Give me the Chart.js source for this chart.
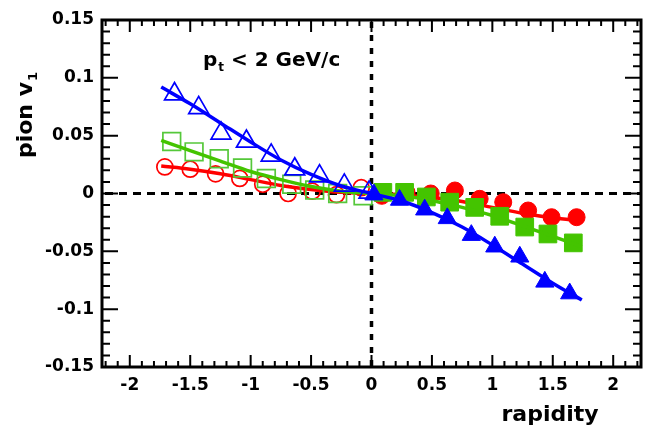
<!DOCTYPE html>
<html><head><meta charset="utf-8">
<script src="https://cdn.jsdelivr.net/npm/chart.js@4.4.0/dist/chart.umd.min.js"></script>
<style>html,body{margin:0;padding:0;background:#fff;}#wrap{width:646px;height:428px;}</style>
</head><body><div id="wrap"><canvas id="c" width="646" height="428"></canvas></div>
<script>
// ---- data ----
const xTicks = [-2, -1.5, -1, -0.5, 0, 0.5, 1, 1.5, 2];
const xTickLabels = ['-2', '-1.5', '-1', '-0.5', '0', '0.5', '1', '1.5', '2'];
const yTicks = [-0.15, -0.1, -0.05, 0, 0.05, 0.1, 0.15];
const yTickLabels = ['-0.15', '-0.1', '-0.05', '0', '0.05', '0.1', '0.15'];

const redOpenX = [-1.71, -1.50, -1.29, -1.09, -0.90, -0.69, -0.49, -0.29, -0.085];
const redOpenY = [0.023, 0.021, 0.017, 0.013, 0.008, 0.000, 0.002, -0.001, 0.005];
const redFillX = [0.085, 0.29, 0.49, 0.69, 0.895, 1.09, 1.296, 1.49, 1.697];
const redFillY = [-0.002, 0.001, 0.000, 0.0026, -0.0046, -0.0075, -0.0147, -0.0205, -0.0205];

const greenOpenX = [-1.653, -1.468, -1.26, -1.067, -0.87, -0.66, -0.47, -0.28, -0.07];
const greenOpenY = [0.045, 0.036, 0.030, 0.022, 0.013, 0.008, 0.003, 0.000, -0.002];
const greenFillX = [0.094, 0.274, 0.454, 0.647, 0.854, 1.061, 1.268, 1.46, 1.67];
const greenFillY = [0.001, 0.001, -0.003, -0.0075, -0.012, -0.0197, -0.029, -0.035, -0.0427];

const blueOpenX = [-1.63, -1.43, -1.245, -1.035, -0.83, -0.635, -0.43, -0.225, -0.02];
const blueOpenY = [0.086, 0.074, 0.052, 0.045, 0.033, 0.021, 0.015, 0.007, 0.001];
const blueFillX = [0.02, 0.232, 0.44, 0.627, 0.826, 1.02, 1.227, 1.434, 1.64];
const blueFillY = [-0.001, -0.0056, -0.014, -0.0215, -0.036, -0.046, -0.0547, -0.0764, -0.0865];

const fitX = [-1.74, -1.5, -1.25, -1.0, -0.75, -0.5, -0.25, 0, 0.25, 0.5, 0.75, 1.0, 1.25, 1.5, 1.74];
const blueFitY = [0.092, 0.0775, 0.061, 0.0445, 0.029, 0.0165, 0.0065, 0, -0.0065, -0.0165, -0.029, -0.0445, -0.061, -0.0775, -0.092];
const greenFitY = [0.046, 0.037, 0.028, 0.019, 0.012, 0.006, 0.002, 0, -0.002, -0.006, -0.012, -0.019, -0.028, -0.037, -0.046];
const redFitY = [0.0237, 0.021, 0.017, 0.012, 0.007, 0.0035, 0.001, 0, -0.001, -0.0035, -0.007, -0.012, -0.017, -0.021, -0.0237];

const annotationMain = 'p';
const annotationSub = 't';
const annotationRest = ' < 2 GeV/c';
const yTitleMain = 'pion v';
const yTitleSub = '1';
const xTitle = 'rapidity';

// ---- styling ----
const FAM = "'DejaVu Sans', 'Liberation Sans', sans-serif";
const RED = '#ff0000', GREEN = '#44c400', GREEN_OPEN = '#55c83a', BLUE = '#0000ff';
const PLOT_RIGHT = 641;

function pts(xs, ys) { return xs.map((x, i) => ({ x: x, y: ys[i] })); }

function lineSet(xs, ys, color, order) {
  return { data: pts(xs, ys), showLine: true, borderColor: color, borderWidth: 3.5,
    pointRadius: 0, cubicInterpolationMode: 'monotone', fill: false, order: order };
}
function markerSet(xs, ys, color, style, radius, filled, order) {
  return { data: pts(xs, ys), showLine: false, pointStyle: style, pointRadius: radius,
    pointBorderColor: color, pointBackgroundColor: filled ? color : 'rgba(0,0,0,0)',
    pointBorderWidth: filled ? 1 : 1.7, order: order };
}

const decor = {
  id: 'decor',
  afterLayout(chart) {
    const a = chart.chartArea, xs = chart.scales.x;
    a.right = PLOT_RIGHT; a.width = a.right - a.left;
    xs.right = PLOT_RIGHT; xs.width = xs.right - xs.left;
    xs.configure();
  },
  beforeDatasetsDraw(chart) {
    const ctx = chart.ctx, a = chart.chartArea, xs = chart.scales.x, ys = chart.scales.y;
    ctx.save();
    ctx.strokeStyle = '#000';
    ctx.lineWidth = 3;
    ctx.setLineDash([8, 6]);
    const y0 = ys.getPixelForValue(0);
    ctx.beginPath(); ctx.moveTo(a.left + 3, y0); ctx.lineTo(a.right, y0); ctx.stroke();
    ctx.lineWidth = 3.5;
    ctx.setLineDash([6, 7]);
    const x0 = xs.getPixelForValue(0);
    ctx.beginPath(); ctx.moveTo(x0, a.top + 2); ctx.lineTo(x0, a.bottom); ctx.stroke();
    ctx.restore();
  },
  afterDatasetsDraw(chart) {
    const ctx = chart.ctx, a = chart.chartArea, xs = chart.scales.x, ys = chart.scales.y;
    ctx.save();
    ctx.strokeStyle = '#000';
    ctx.setLineDash([]);
    ctx.lineWidth = 2;
    for (let i = -22; i <= 22; i++) {
      const v = i / 10;
      const major = (i % 5 === 0);
      const len = major ? 12 : 6;
      const px = xs.getPixelForValue(v);
      ctx.beginPath();
      ctx.moveTo(px, a.bottom); ctx.lineTo(px, a.bottom - len);
      ctx.moveTo(px, a.top); ctx.lineTo(px, a.top + len);
      ctx.stroke();
    }
    for (let i = -15; i <= 15; i++) {
      const v = i / 100;
      const major = (i % 5 === 0);
      const len = major ? 16 : 8;
      const py = ys.getPixelForValue(v);
      ctx.beginPath();
      ctx.moveTo(a.left, py); ctx.lineTo(a.left + len, py);
      ctx.moveTo(a.right, py); ctx.lineTo(a.right - len, py);
      ctx.stroke();
    }
    ctx.lineWidth = 3;
    ctx.strokeRect(a.left, a.top, a.right - a.left, a.bottom - a.top);
    ctx.restore();
  },
  afterDraw(chart) {
    const ctx = chart.ctx;
    ctx.save();
    ctx.fillStyle = '#000';
    ctx.textBaseline = 'alphabetic';
    ctx.textAlign = 'left';
    let ax = 203, ay = 66;
    ctx.font = 'bold 20px ' + FAM;
    ctx.fillText(annotationMain, ax, ay);
    ax += ctx.measureText(annotationMain).width;
    ctx.font = 'bold 12px ' + FAM;
    ctx.fillText(annotationSub, ax + 1, ay + 5);
    ax += ctx.measureText(annotationSub).width + 1;
    ctx.font = 'bold 20px ' + FAM;
    ctx.fillText(annotationRest, ax, ay);
    ctx.font = 'bold 22px ' + FAM;
    ctx.textAlign = 'center';
    ctx.fillText(xTitle, 550, 421);
    ctx.translate(32, 115);
    ctx.rotate(-Math.PI / 2);
    ctx.font = 'bold 22px ' + FAM;
    const w1 = ctx.measureText(yTitleMain).width;
    ctx.font = 'bold 13px ' + FAM;
    const w2 = ctx.measureText(yTitleSub).width;
    const tot = w1 + w2 + 1;
    ctx.textAlign = 'left';
    ctx.font = 'bold 22px ' + FAM;
    ctx.fillText(yTitleMain, -tot / 2, 0);
    ctx.font = 'bold 13px ' + FAM;
    ctx.fillText(yTitleSub, -tot / 2 + w1 + 1, 5);
    ctx.restore();
  }
};

const tickFont = { family: FAM, size: 17, weight: 'bold' };

new Chart(document.getElementById('c'), {
  type: 'scatter',
  data: {
    datasets: [
      lineSet(fitX, blueFitY, BLUE, 0),
      markerSet(blueOpenX, blueOpenY, BLUE, 'triangle', 11.5, false, 1),
      markerSet(blueFillX, blueFillY, BLUE, 'triangle', 10.5, true, 1),
      lineSet(fitX, greenFitY, GREEN, 2),
      markerSet(greenOpenX, greenOpenY, GREEN_OPEN, 'rect', 12.5, false, 3),
      markerSet(greenFillX, greenFillY, GREEN, 'rect', 12.5, true, 3),
      lineSet(fitX, redFitY, RED, 4),
      markerSet(redOpenX, redOpenY, RED, 'circle', 8, false, 5),
      markerSet(redFillX, redFillY, RED, 'circle', 8.5, true, 5)
    ]
  },
  options: {
    responsive: false,
    animation: false,
    devicePixelRatio: 1,
    layout: { padding: { top: 20, right: 5, left: 0, bottom: 0 } },
    plugins: { legend: { display: false }, tooltip: { enabled: false } },
    scales: {
      x: {
        type: 'linear', min: -2.23, max: 2.23,
        afterBuildTicks: s => { s.ticks = xTicks.map(v => ({ value: v })); },
        afterFit: s => { s.height = 61; s.paddingLeft = 0; s.paddingRight = 0; },
        ticks: { callback: v => xTickLabels[xTicks.indexOf(v)], font: tickFont, color: '#000',
          padding: 8, maxRotation: 0, autoSkip: false },
        grid: { display: false, drawTicks: false },
        border: { display: false }
      },
      y: {
        type: 'linear', min: -0.15, max: 0.15,
        afterBuildTicks: s => { s.ticks = yTicks.map(v => ({ value: v })); },
        afterFit: s => { s.width = 102; },
        ticks: { callback: v => yTickLabels[yTicks.indexOf(v)], font: tickFont, color: '#000',
          padding: 8, autoSkip: false },
        grid: { display: false, drawTicks: false },
        border: { display: false }
      }
    }
  },
  plugins: [decor]
});
</script>
</body></html>
